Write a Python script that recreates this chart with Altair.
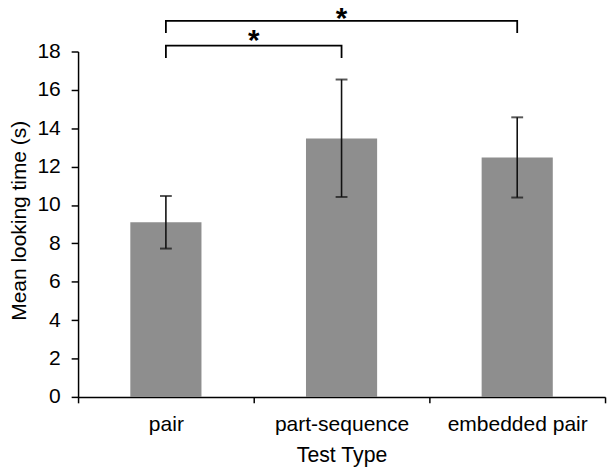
import altair as alt
import pandas as pd

# ---- data ----
categories = ["pair", "part-sequence", "embedded pair"]
means = [9.10, 13.46, 12.48]
err_low = [7.73, 10.42, 10.39]
err_high = [10.47, 16.54, 14.57]
y_ticks = [0, 2, 4, 6, 8, 10, 12, 14, 16, 18]

# significance brackets (from, to, leg bottom, top)
bracket_from = ["pair", "pair"]
bracket_to = ["part-sequence", "embedded pair"]
bracket_bottom = [17.66, 18.96]
bracket_top = [18.31, 19.60]
star_labels = ["*", "*"]
star_y = [18.94, 20.12]

FONT = "Liberation Sans"

bars_df = pd.DataFrame({"cat": categories, "mean": means, "lo": err_low, "hi": err_high})

rows = []
for i, (a, b, lo, hi) in enumerate(zip(bracket_from, bracket_to, bracket_bottom, bracket_top)):
    rows += [
        {"id": i, "o": 0, "cat": a, "y": lo},
        {"id": i, "o": 1, "cat": a, "y": hi},
        {"id": i, "o": 2, "cat": b, "y": hi},
        {"id": i, "o": 3, "cat": b, "y": lo},
    ]
brackets_df = pd.DataFrame(rows)

star1_df = pd.DataFrame({"cat": [bracket_to[0]], "y": [star_y[0]], "t": [star_labels[0]]})
star2_df = pd.DataFrame({"cat": ["part-sequence"], "y": [star_y[1]], "t": [star_labels[1]]})

x_scale = alt.Scale(domain=categories, paddingInner=0, paddingOuter=0)
y_scale = alt.Scale(domain=[0, 18], nice=False)

x_axis = alt.Axis(
    title="Test Type", labelAngle=0, tickBand="extent", tickSize=6,
    labelPadding=11, labelFontSize=21.3,
    titleFontSize=21.5, titleX=267, titleY=65, titleBaseline="alphabetic", titleAnchor="middle",
)
y_axis = alt.Axis(
    title="Mean looking time (s)", values=y_ticks, grid=False,
    labelOverlap=False, labelBound=False, labelFlush=False,
    tickSize=7, labelPadding=11, labelFontSize=21.3,
    titleFontSize=21.2, titleX=-53, titleY=171, titleBaseline="alphabetic",
    titleAlign="center", titleAngle=270,
)


def X(**kw):
    return alt.X("cat:N", scale=x_scale, sort=categories, axis=x_axis, **kw)


def Y(field):
    return alt.Y(field, scale=y_scale, axis=y_axis)


base = alt.Chart(bars_df)

bars = base.mark_bar(color="#8e8e8e", width=alt.RelativeBandSize(0.405)).encode(
    x=X(), y=Y("mean:Q"),
)

err = base.mark_rule(color="#111111", strokeWidth=1.6).encode(
    x=X(), y=Y("lo:Q"), y2="hi:Q",
)
cap_lo = base.mark_tick(color="#111111", size=12, thickness=2).encode(x=X(), y=Y("lo:Q"))
cap_hi = base.mark_tick(color="#111111", size=12, thickness=2).encode(x=X(), y=Y("hi:Q"))

brackets = alt.Chart(brackets_df).mark_line(
    color="#000000", strokeWidth=1.8, strokeJoin="miter"
).encode(
    x=X(), y=Y("y:Q"), detail="id:N", order="o:Q",
)

star1 = alt.Chart(star1_df).mark_text(
    font=FONT, fontSize=30, fontWeight="bold", color="#000000", baseline="middle", dy=8
).encode(x=X(bandPosition=0), y=Y("y:Q"), text="t:N")
star2 = alt.Chart(star2_df).mark_text(
    font=FONT, fontSize=30, fontWeight="bold", color="#000000", baseline="middle", dy=8
).encode(x=X(), y=Y("y:Q"), text="t:N")

chart = alt.layer(bars, err, cap_lo, cap_hi, brackets, star1, star2).properties(
    width=534, height=350,
    autosize=alt.AutoSizeParams(type="none"),
    padding={"left": 71, "top": 41, "right": 3, "bottom": 72},
).configure_view(
    strokeWidth=0
).configure_axis(
    labelFont=FONT, labelColor="#000000", titleFont=FONT, titleColor="#000000",
    titleFontWeight="normal", domainColor="#000000", tickColor="#000000",
    domainWidth=1.5, tickWidth=1.5, labelOverlap=False, grid=False,
)

chart.save("out.html", embed_options={"renderer": "svg", "actions": False})
